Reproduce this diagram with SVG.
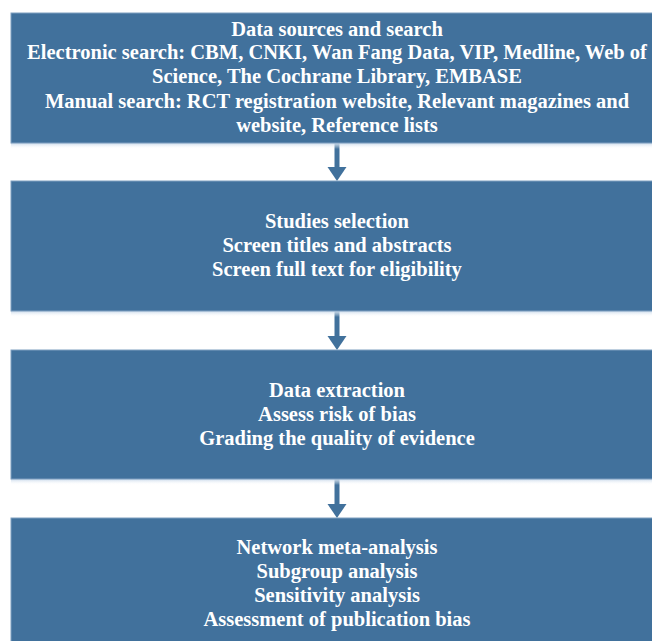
<svg xmlns="http://www.w3.org/2000/svg" width="652" height="641" viewBox="0 0 652 641">
<defs>
<linearGradient id="sh" x1="0" y1="0" x2="0" y2="1">
<stop offset="0" stop-color="#c9d9ea"/>
<stop offset="1" stop-color="#ffffff" stop-opacity="0"/>
</linearGradient>
<style>
.box{fill:#41719c;stroke:#7f9fc0;stroke-width:1}
.shadow{fill:url(#sh)}
.t{font-family:"Liberation Serif","Times New Roman",serif;font-weight:bold;font-size:20.5px;fill:#ffffff;text-anchor:middle}
.c{stroke:#41719c;stroke-width:5;fill:none}
.h{fill:#41719c}
</style>
</defs>
<g id="connectors">
<line class="c" x1="337" y1="143" x2="337" y2="168"/>
<path class="h" d="M327.5,167 L346.5,167 L337,181 Z"/>
<line class="c" x1="337" y1="311" x2="337" y2="337"/>
<path class="h" d="M327.5,336 L346.5,336 L337,350 Z"/>
<line class="c" x1="337" y1="479" x2="337" y2="505"/>
<path class="h" d="M327.5,504 L346.5,504 L337,518 Z"/>
</g>
<g id="node1">
<rect class="shadow" x="11" y="143" width="652" height="6"/>
<rect class="box" x="11" y="13" width="652" height="130"/>
<text class="t" x="337" y="36">Data sources and search</text>
<text class="t" x="337" y="59">Electronic search: CBM, CNKI, Wan Fang Data, VIP, Medline, Web of</text>
<text class="t" x="337" y="83">Science, The Cochrane Library, EMBASE</text>
<text class="t" x="337" y="108">Manual search: RCT registration website, Relevant magazines and</text>
<text class="t" x="337" y="132">website, Reference lists</text>
</g>
<g id="node2">
<rect class="shadow" x="11" y="311" width="652" height="6"/>
<rect class="box" x="11" y="181" width="652" height="130"/>
<text class="t" x="337" y="228">Studies selection</text>
<text class="t" x="337" y="252">Screen titles and abstracts</text>
<text class="t" x="337" y="276">Screen full text for eligibility</text>
</g>
<g id="node3">
<rect class="shadow" x="11" y="479" width="652" height="6"/>
<rect class="box" x="11" y="350" width="652" height="129"/>
<text class="t" x="337" y="397">Data extraction</text>
<text class="t" x="337" y="421">Assess risk of bias</text>
<text class="t" x="337" y="445">Grading the quality of evidence</text>
</g>
<g id="node4">
<rect class="box" x="11" y="518" width="652" height="130"/>
<text class="t" x="337" y="554">Network meta-analysis</text>
<text class="t" x="337" y="578">Subgroup analysis</text>
<text class="t" x="337" y="602">Sensitivity analysis</text>
<text class="t" x="337" y="626">Assessment of publication bias</text>
</g>
</svg>
